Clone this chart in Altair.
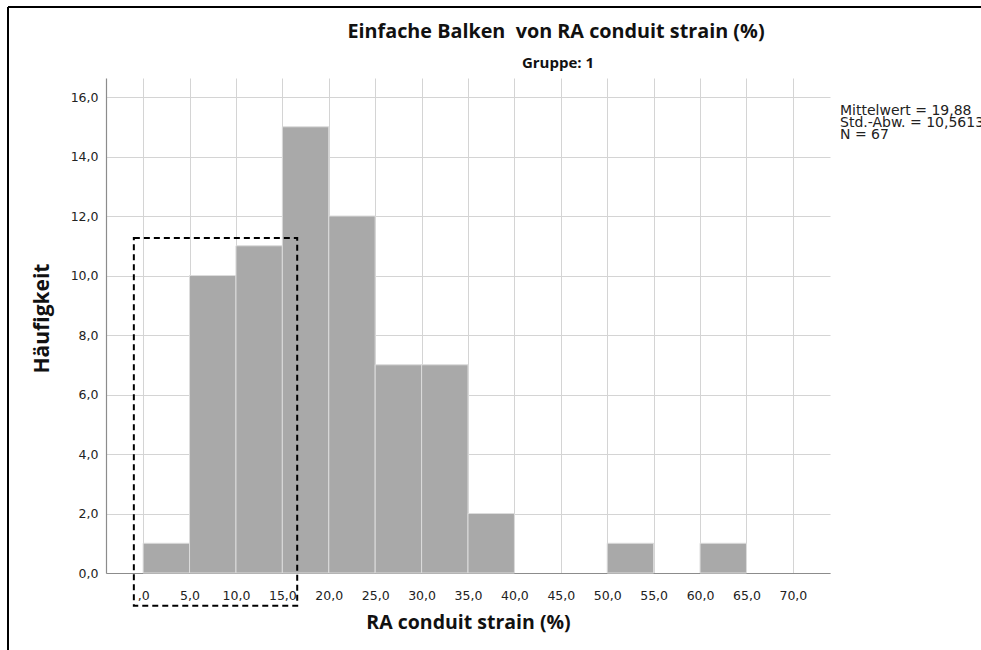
import altair as alt
import pandas as pd

# ---- data ----
bin_starts = [0, 5, 10, 15, 20, 25, 30, 35, 40, 45, 50, 55, 60, 65]
bin_width = 5
counts = [1, 10, 11, 15, 12, 7, 7, 2, 0, 0, 1, 0, 1, 0]
x_ticks = [0, 5, 10, 15, 20, 25, 30, 35, 40, 45, 50, 55, 60, 65, 70]
y_ticks = [0, 2, 4, 6, 8, 10, 12, 14, 16]
stats_lines = ["Mittelwert = 19,88", "Std.-Abw. = 10,5613", "N = 67"]
title_text = "Einfache Balken \u00a0von RA conduit strain (%)"
subtitle_text = "Gruppe: 1"
x_title = "RA conduit strain (%)"
y_title = "Häufigkeit"
# highlight box (data units)
box = {"x1": -1.0, "x2": 16.6, "y1": -1.1, "y2": 11.26}

df = pd.DataFrame({
    "start": bin_starts,
    "end": [s + bin_width for s in bin_starts],
    "count": counts,
})

W, H = 724, 495
PAD_L, PAD_T = 106, 78
XDOM = [-4, 74]
YDOM = [0, 16.64]

FONT = "DejaVu Sans"

xscale = alt.Scale(domain=XDOM, nice=False, zero=False)
yscale = alt.Scale(domain=YDOM, nice=False)

x_label_expr = "datum.value == 0 ? ',0' : replace(format(datum.value, '.1f'), '.', ',')"
y_label_expr = "replace(format(datum.value, '.1f'), '.', ',')"

bars = alt.Chart(df).transform_filter("datum.count > 0").mark_rect(
    color="#a9a9a9", stroke="#dcdcdc", strokeWidth=1
).encode(
    x=alt.X("start:Q", scale=xscale,
            axis=alt.Axis(values=x_ticks, labelExpr=x_label_expr, title=x_title,
                          grid=True, gridColor="#d4d4d4", gridWidth=1,
                          ticks=False, domainColor="#8c8c8c", domainWidth=1.2,
                          labelFont=FONT, labelFontSize=12.5, labelColor="#222",
                          labelPadding=16, titleFont="Open Sans", titleFontSize=19.5,
                          titleFontWeight="bold", titleColor="#111",
                          titlePadding=12, labelFlush=False, zindex=0)),
    x2="end:Q",
    y=alt.Y("count:Q", scale=yscale,
            axis=alt.Axis(values=y_ticks, labelExpr=y_label_expr, title=y_title,
                          grid=True, gridColor="#d4d4d4", gridWidth=1,
                          ticks=False, domainColor="#8c8c8c", domainWidth=1.2,
                          labelFont=FONT, labelFontSize=12.5, labelColor="#222",
                          labelPadding=8, titleFont="Open Sans", titleFontSize=21,
                          titleFontWeight="bold", titleColor="#111",
                          titlePadding=18, titleY=240, zindex=0)),
)

box_df = pd.DataFrame([box])
hl = alt.Chart(box_df).mark_rect(
    fill=None, filled=False, stroke="black", strokeWidth=2, strokeDash=[6, 4], clip=False
).encode(
    x=alt.X("x1:Q", scale=xscale), x2="x2:Q",
    y=alt.Y("y1:Q", scale=yscale), y2="y2:Q",
)

stats = alt.Chart(pd.DataFrame({"t": ["\n".join(stats_lines)]})).mark_text(
    align="left", baseline="top", font=FONT, fontSize=14, color="#222",
    lineBreak="\n", lineHeight=12
).encode(text="t:N", x=alt.value(734), y=alt.value(26))

title = alt.Chart(pd.DataFrame({"t": [title_text]})).mark_text(
    font="Open Sans", fontSize=19.8, fontWeight="bold", color="#111", align="center", baseline="middle"
).encode(text="t:N", x=alt.value(450), y=alt.value(-46))

subtitle = alt.Chart(pd.DataFrame({"t": [subtitle_text]})).mark_text(
    font="Open Sans", fontSize=15, fontWeight="bold", color="#111", align="center", baseline="middle"
).encode(text="t:N", x=alt.value(452), y=alt.value(-15))

frame_top = alt.Chart(pd.DataFrame({"a": [0]})).mark_rule(color="black", strokeWidth=2).encode(
    x=alt.value(-98), x2=alt.value(900), y=alt.value(-71))
frame_left = alt.Chart(pd.DataFrame({"a": [0]})).mark_rule(color="black", strokeWidth=2).encode(
    x=alt.value(-98), y=alt.value(-71), y2=alt.value(600))

chart = alt.layer(bars, hl, stats, title, subtitle, frame_top, frame_left).properties(
    width=W, height=H,
    padding={"left": PAD_L, "top": PAD_T, "right": 981 - PAD_L - W, "bottom": 650 - PAD_T - H},
    autosize=alt.AutoSizeParams(type="none"),
    view=alt.ViewBackground(stroke="transparent", strokeWidth=0),
).configure_view(strokeWidth=0, stroke="transparent").configure(background="white")

chart.save("out.html", embed_options={"renderer": "svg", "actions": False})
